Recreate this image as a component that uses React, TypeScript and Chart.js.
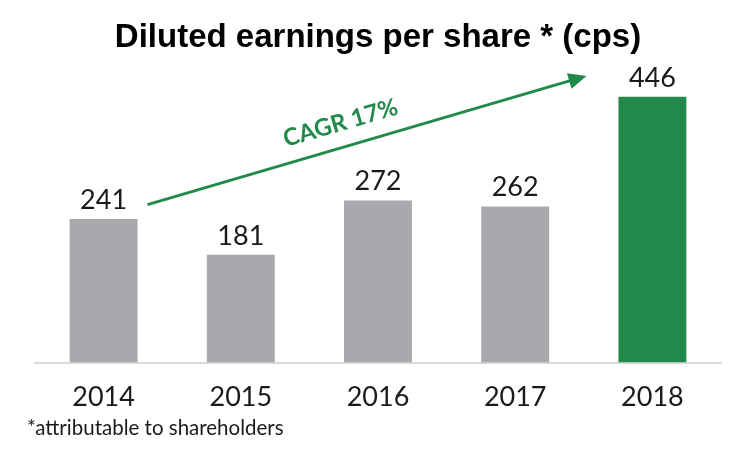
import React, { useEffect, useRef } from "react";
import { Chart, registerables } from "chart.js";

Chart.register(...registerables);

const categories = ["2014", "2015", "2016", "2017", "2018"];
const values = [241, 181, 272, 262, 446];
const barColors = ["#a7a9ac", "#a7a9ac", "#a7a9ac", "#a7a9ac", "#218a4b"];
const titleText = "Diluted earnings per share * (cps)";
const footnoteText = "*attributable to shareholders";
const cagrLabel = "CAGR 17%";
// arrow endpoints in data units (category index, value)
const arrowStart = [0.32, 265];
const arrowEnd = [3.52, 481];

const GREEN = "#218a4b";

const extrasPlugin = {
  id: "extras",
  afterDatasetsDraw(chart: any) {
    const ctx = chart.ctx;
    const meta = chart.getDatasetMeta(0);
    const xs = chart.scales.x;
    const ys = chart.scales.y;
    ctx.save();
    // value labels
    ctx.font = "27px Lato";
    ctx.fillStyle = "#1a1a1a";
    ctx.textAlign = "center";
    ctx.textBaseline = "alphabetic";
    meta.data.forEach((bar: any, i: number) => {
      ctx.fillText(String(values[i]), bar.x, bar.y - 10);
    });
    // arrow
    const x1 = xs.getPixelForValue(arrowStart[0]);
    const y1 = ys.getPixelForValue(arrowStart[1]);
    const x2 = xs.getPixelForValue(arrowEnd[0]);
    const y2 = ys.getPixelForValue(arrowEnd[1]);
    const ang = Math.atan2(y2 - y1, x2 - x1);
    const headLen = 18;
    const headW = 8;
    ctx.strokeStyle = GREEN;
    ctx.fillStyle = GREEN;
    ctx.lineWidth = 3;
    ctx.beginPath();
    ctx.moveTo(x1, y1);
    ctx.lineTo(x2 - Math.cos(ang) * (headLen - 2), y2 - Math.sin(ang) * (headLen - 2));
    ctx.stroke();
    ctx.beginPath();
    ctx.moveTo(x2, y2);
    const bx = x2 - Math.cos(ang) * headLen;
    const by = y2 - Math.sin(ang) * headLen;
    ctx.lineTo(bx + Math.sin(ang) * headW, by - Math.cos(ang) * headW);
    ctx.lineTo(bx - Math.sin(ang) * headW, by + Math.cos(ang) * headW);
    ctx.closePath();
    ctx.fill();
    // CAGR label
    const t = 0.455;
    const mx = x1 + (x2 - x1) * t;
    const my = y1 + (y2 - y1) * t;
    const off = 24;
    const tx = mx + Math.sin(ang) * off;
    const ty = my - Math.cos(ang) * off;
    ctx.translate(tx, ty);
    ctx.rotate(ang);
    ctx.font = "bold 24px Lato";
    ctx.textAlign = "center";
    ctx.textBaseline = "middle";
    ctx.fillText(cagrLabel, 0, 0);
    ctx.restore();
    // footnote
    ctx.save();
    ctx.font = "20.5px Lato";
    ctx.fillStyle = "#1a1a1a";
    ctx.textAlign = "left";
    ctx.textBaseline = "middle";
    ctx.fillText(footnoteText, chart.chartArea.left - 8, 428);
    ctx.restore();
  },
};

export default function App() {
  const ref = useRef<HTMLCanvasElement | null>(null);
  useEffect(() => {
    if (!ref.current) return;
    const chart = new Chart(ref.current, {
      type: "bar",
      data: {
        labels: categories,
        datasets: [
          {
            data: values,
            backgroundColor: barColors,
            borderWidth: 0,
            categoryPercentage: 1,
            barPercentage: 0.495,
          },
        ],
      },
      options: {
        animation: false,
        responsive: false,
        maintainAspectRatio: false,
        layout: { padding: { left: 35, right: 20, top: 0, bottom: 22 } },
        plugins: {
          legend: { display: false },
          tooltip: { enabled: false },
          title: {
            display: true,
            text: titleText,
            color: "#000000",
            font: { family: "'Liberation Sans', Arial, sans-serif", size: 33, weight: "bold" },
            padding: { top: 18, bottom: 7 },
          },
        },
        scales: {
          x: {
            grid: { display: false, drawTicks: false },
            border: { display: true, color: "#d9d9d9", width: 2 },
            ticks: { color: "#1a1a1a", font: { family: "Lato", size: 27 }, padding: 18 },
          },
          y: {
            display: false,
            min: 0,
            max: 500,
          },
        },
      },
      plugins: [extrasPlugin],
    });
    return () => chart.destroy();
  }, []);
  return (
    <div style={{ position: "fixed", left: 0, top: 0, width: 741, height: 453, background: "#fff" }}>
      <canvas ref={ref} width={741} height={453} style={{ width: 741, height: 453 }} />
    </div>
  );
}
